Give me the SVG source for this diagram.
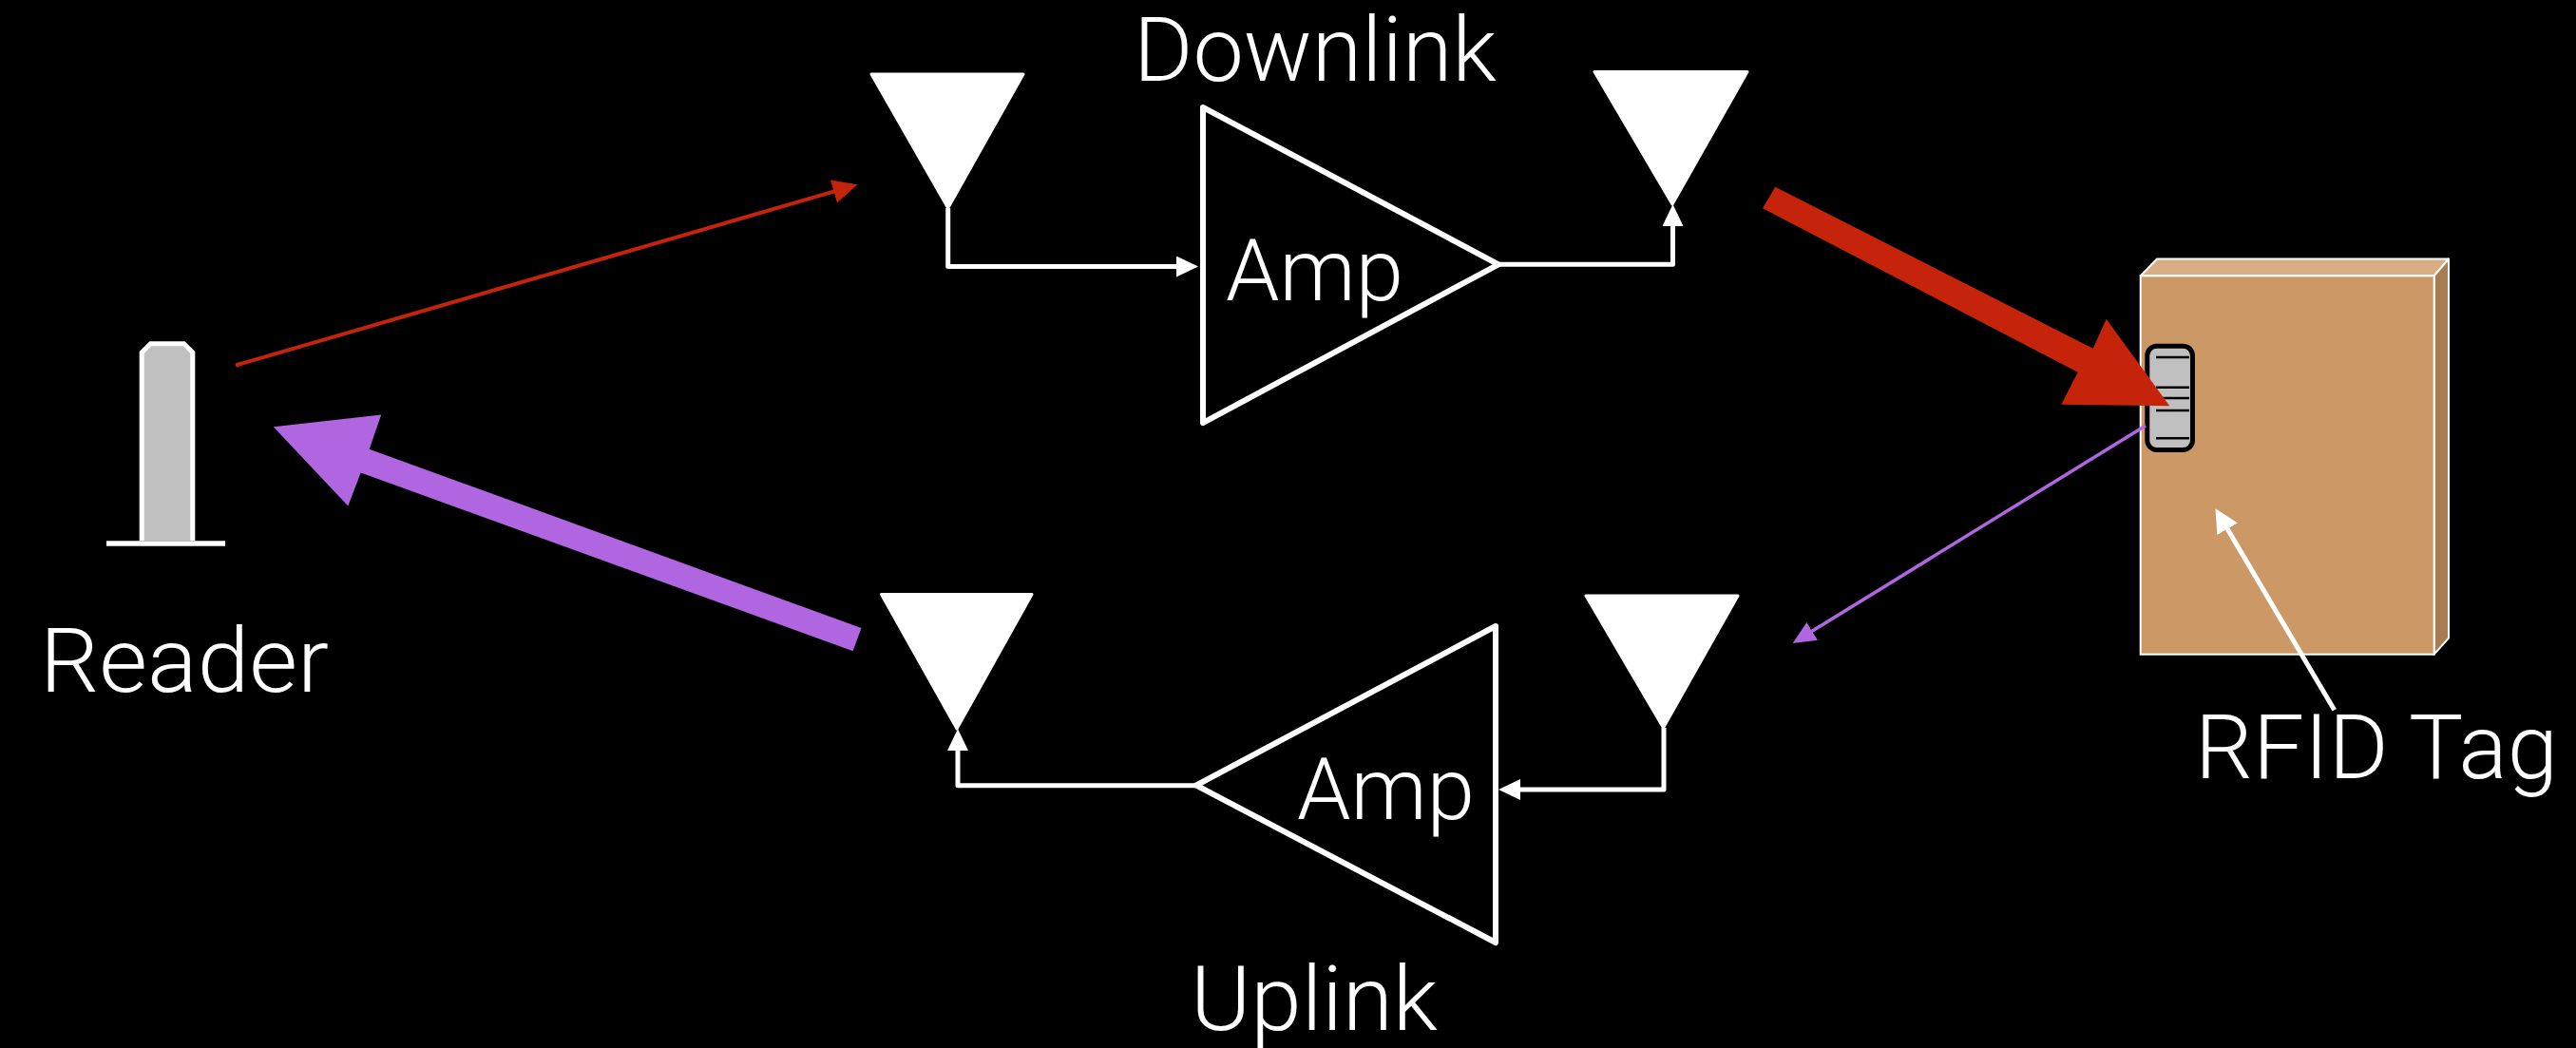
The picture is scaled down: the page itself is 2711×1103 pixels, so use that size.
<svg xmlns="http://www.w3.org/2000/svg" width="2711" height="1103" viewBox="0 0 2711 1103">
  <style>
    .label { font-family: Roboto, "Liberation Sans", sans-serif; font-weight: 300; fill: #ffffff; }
    .ant { fill: #ffffff; stroke: #ffffff; stroke-width: 3; stroke-linejoin: round; }
    .amp { fill: none; stroke: #ffffff; stroke-width: 6; stroke-linejoin: round; }
    .wire { fill: none; stroke: #ffffff; stroke-width: 5; stroke-linejoin: round; }
    .chipline { stroke: #000000; stroke-width: 2.5; }
  </style>
  <defs>
    <marker id="headWhite" markerUnits="userSpaceOnUse" markerWidth="24" markerHeight="24" refX="10" refY="11" orient="auto">
      <path d="M0,0 L23,11 L0,22 Z" fill="#ffffff"/>
    </marker>
    <marker id="headWhiteBig" markerUnits="userSpaceOnUse" markerWidth="27" markerHeight="27" refX="12" refY="12.5" orient="auto">
      <path d="M0,0 L25,12.5 L0,25 Z" fill="#ffffff"/>
    </marker>
    <marker id="headRed" markerUnits="userSpaceOnUse" markerWidth="28" markerHeight="27" refX="14" refY="12.5" orient="auto">
      <path d="M0,0 L26,12.5 L0,25 Z" fill="#c5240a"/>
    </marker>
    <marker id="headPurple" markerUnits="userSpaceOnUse" markerWidth="26" markerHeight="24" refX="12" refY="11" orient="auto">
      <path d="M0,0 L24,11 L0,22 Z" fill="#b066e0"/>
    </marker>
  </defs>

  <rect x="0" y="0" width="2711" height="1103" fill="#000000"/>

  <!-- Reader -->
  <g id="reader">
    <path d="M149.2,569 V371 L158.5,361.8 H193.5 L202.8,371 V569" fill="#c0c0c0" stroke="#ffffff" stroke-width="5"/>
    <line x1="112" y1="572" x2="237" y2="572" stroke="#ffffff" stroke-width="5.5"/>
    <text class="label" x="42" y="728" font-size="94" textLength="304" lengthAdjust="spacingAndGlyphs">Reader</text>
  </g>

  <!-- Downlink chain -->
  <g id="downlink-label">
    <text class="label" x="1193" y="85" font-size="95" textLength="382" lengthAdjust="spacingAndGlyphs">Downlink</text>
  </g>
  <g id="antenna-dl-rx">
    <polygon class="ant" points="917,78 1077,78 997.7,219"/>
  </g>
  <g id="amp-dl">
    <path class="amp" d="M1266,113 L1577,278.3 L1266,445 Z"/>
    <text class="label" x="1290" y="316" font-size="91" textLength="187" lengthAdjust="spacingAndGlyphs">Amp</text>
  </g>
  <g id="antenna-dl-tx">
    <polygon class="ant" points="1678,75.5 1839,75.5 1760,215"/>
  </g>

  <!-- Uplink chain -->
  <g id="antenna-ul-rx">
    <polygon class="ant" points="1669,627 1829,627 1750.5,766"/>
  </g>
  <g id="amp-ul">
    <path class="amp" d="M1574,659 L1259,826.5 L1574,992 Z"/>
    <text class="label" x="1365" y="862" font-size="91" textLength="187" lengthAdjust="spacingAndGlyphs">Amp</text>
  </g>
  <g id="antenna-ul-tx">
    <polygon class="ant" points="927.5,625.5 1086,625.5 1007,767"/>
  </g>
  <g id="uplink-label">
    <text class="label" x="1253" y="1084" font-size="95" textLength="260" lengthAdjust="spacingAndGlyphs">Uplink</text>
  </g>

  <!-- Tagged box -->
  <g id="rfid-tag">
    <polygon points="2252.7,290.3 2270,272.5 2577,272.5 2561.7,290.3" fill="#d8ad84" stroke="#ffffff" stroke-width="2" stroke-linejoin="round"/>
    <polygon points="2561.7,290.3 2577,272.5 2577,671.7 2561.7,688.7" fill="#a67c52" stroke="#ffffff" stroke-width="2" stroke-linejoin="round"/>
    <rect x="2252.7" y="290.3" width="309" height="398.4" fill="#cc9966" stroke="#ffffff" stroke-width="2"/>
    <rect x="2259.8" y="364.2" width="47.7" height="109.3" rx="10" ry="10" fill="#c0c0c0" stroke="#000000" stroke-width="5"/>
    <line class="chipline" x1="2269" y1="376" x2="2304" y2="376"/>
    <line class="chipline" x1="2269" y1="407.7" x2="2304" y2="407.7"/>
    <line class="chipline" x1="2269" y1="419" x2="2304" y2="419"/>
    <line class="chipline" x1="2269" y1="432" x2="2304" y2="432"/>
    <line class="chipline" x1="2269" y1="461.3" x2="2304" y2="461.3"/>
    <text class="label" x="2310" y="819" font-size="95" textLength="382" lengthAdjust="spacingAndGlyphs">RFID Tag</text>
  </g>

  <!-- Connectors -->
  <g id="connectors">
    <!-- feed lines between antennas and amplifiers -->
    <path class="wire" d="M997.7,219 V280.5 H1248" marker-end="url(#headWhite)"/>
    <path class="wire" d="M1577,278.3 H1760.5 V228" marker-end="url(#headWhite)"/>
    <path class="wire" d="M1751,766 V831 H1590" marker-end="url(#headWhite)"/>
    <path class="wire" d="M1259,826.7 H1008 V780" marker-end="url(#headWhite)"/>

    <!-- reader to downlink antenna -->
    <path d="M248,384.5 L890.9,197.7" stroke="#c5240a" stroke-width="4" fill="none" marker-end="url(#headRed)"/>
    <!-- amplified downlink to tag -->
    <polygon points="1868.3,196.7 2202.7,366.7 2216.7,335.7 2283.3,427.3 2169.3,425.7 2186.7,391.7 1855,219.3" fill="#c5240a"/>

    <!-- tag backscatter to uplink antenna -->
    <path d="M2258,448 L1896.9,670.6" stroke="#b066e0" stroke-width="3.5" fill="none" marker-end="url(#headPurple)"/>
    <!-- amplified uplink to reader -->
    <polygon points="287.8,449.3 401.2,436.5 388.7,472.7 906.5,661.1 897.6,685.2 379.7,497.5 366.3,532.6" fill="#b066e0"/>

    <!-- label pointer -->
    <path d="M2456.7,747.3 L2338.1,546.4" stroke="#ffffff" stroke-width="5" fill="none" marker-end="url(#headWhiteBig)"/>
  </g>
</svg>
